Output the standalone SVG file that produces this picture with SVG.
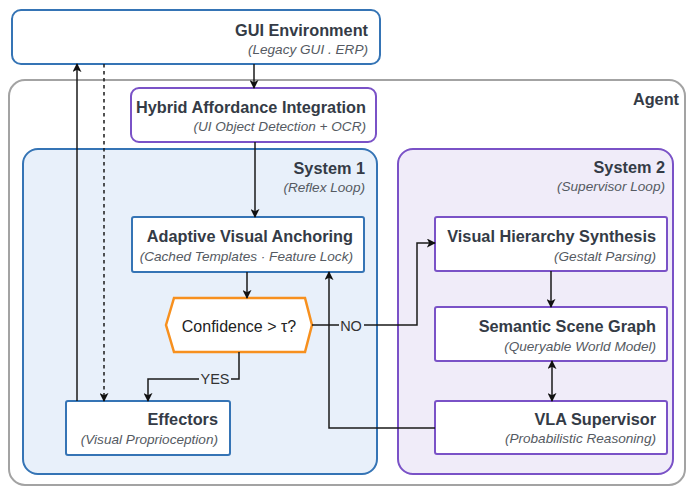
<svg xmlns="http://www.w3.org/2000/svg" width="687" height="487" viewBox="0 0 687 487">
  <style>
    text { font-family: "Liberation Sans", Arial, sans-serif; }
    .title { font-size: 16.3px; font-weight: bold; fill: #343b46; text-anchor: end; }
    .sub { font-size: 13.6px; font-style: italic; fill: #555a62; text-anchor: end; }
    .blue { fill: #ffffff; stroke: #3574b5; stroke-width: 2; }
    .purple { fill: #ffffff; stroke: #7a52c7; stroke-width: 2; }
    .edge { fill: none; stroke: #1a1a1a; stroke-width: 1.5; }
    .lbl { font-size: 14.5px; fill: #333; text-anchor: middle; }
  </style>
  <defs>
    <marker id="arr" viewBox="0 0 10 10" refX="9" refY="5" markerWidth="9" markerHeight="9" orient="auto-start-reverse" markerUnits="userSpaceOnUse">
      <path d="M0,0 L10,5 L0,10 L2.5,5 Z" fill="#111"/>
    </marker>
  </defs>
  <rect width="687" height="487" fill="#ffffff"/>

  <!-- containers -->
  <g id="agent">
    <rect x="9" y="80" width="676" height="405" rx="16" fill="#ffffff" stroke="#a3a3a3" stroke-width="2"/>
    <text class="title" x="679" y="105">Agent</text>
  </g>
  <g id="system1">
    <rect x="23" y="149" width="354" height="325" rx="15" fill="#e8f0fa" stroke="#3574b5" stroke-width="2"/>
    <text class="title" x="365" y="174">System 1</text>
    <text class="sub" x="365" y="192">(Reflex Loop)</text>
  </g>
  <g id="system2">
    <rect x="398" y="149" width="275" height="325" rx="15" fill="#f0ecf9" stroke="#7a52c7" stroke-width="2"/>
    <text class="title" x="665" y="173">System 2</text>
    <text class="sub" x="665" y="191">(Supervisor Loop)</text>
  </g>

  <!-- nodes -->
  <g id="gui">
    <rect class="blue" x="12" y="10" width="368" height="54" rx="9"/>
    <text class="title" x="368" y="36">GUI Environment</text>
    <text class="sub" x="368" y="54">(Legacy GUI . ERP)</text>
  </g>
  <g id="hybrid">
    <rect class="purple" x="131" y="88" width="245" height="54" rx="8"/>
    <text class="title" x="366" y="113">Hybrid Affordance Integration</text>
    <text class="sub" x="366" y="131">(UI Object Detection + OCR)</text>
  </g>
  <g id="anchoring">
    <rect class="blue" x="132" y="217" width="232" height="55" rx="2"/>
    <text class="title" x="353" y="242">Adaptive Visual Anchoring</text>
    <text class="sub" x="353" y="261">(Cached Templates · Feature Lock)</text>
  </g>
  <g id="confidence">
    <polygon points="166,325 174,298 305,298 312,325 305,352 174,352" fill="#ffffff" stroke="#f7901e" stroke-width="2.5"/>
    <text x="239" y="332" font-size="16" fill="#222" text-anchor="middle">Confidence &gt; τ?</text>
  </g>
  <g id="effectors">
    <rect class="blue" x="66" y="401" width="164" height="54" rx="2"/>
    <text class="title" x="218" y="425">Effectors</text>
    <text class="sub" x="218" y="444">(Visual Proprioception)</text>
  </g>
  <g id="hierarchy">
    <rect class="purple" x="435" y="217" width="232" height="54" rx="2"/>
    <text class="title" x="656" y="242">Visual Hierarchy Synthesis</text>
    <text class="sub" x="656" y="261">(Gestalt Parsing)</text>
  </g>
  <g id="scenegraph">
    <rect class="purple" x="435" y="307" width="232" height="54" rx="2"/>
    <text class="title" x="656" y="332">Semantic Scene Graph</text>
    <text class="sub" x="656" y="351">(Queryable World Model)</text>
  </g>
  <g id="supervisor">
    <rect class="purple" x="435" y="401" width="232" height="53" rx="2"/>
    <text class="title" x="656" y="425">VLA Supervisor</text>
    <text class="sub" x="656" y="443">(Probabilistic Reasoning)</text>
  </g>

  <!-- connectors -->
  <g id="connectors">
    <path class="edge" d="M254,64 L254,88" marker-end="url(#arr)"/>
    <path class="edge" d="M255,142 L255,217" marker-end="url(#arr)"/>
    <path class="edge" d="M247,272 L247,298" marker-end="url(#arr)"/>
    <path class="edge" d="M239,352 L239,379 L148,379 L148,401" marker-end="url(#arr)"/>
    <path class="edge" d="M312,325 L417,325 L417,243 L435,243" marker-end="url(#arr)"/>
    <path class="edge" stroke="#333" d="M435,428 L329,428 L329,272" marker-end="url(#arr)"/>
    <path class="edge" d="M551,271 L551,307" marker-end="url(#arr)"/>
    <path class="edge" d="M552,361 L552,401" marker-start="url(#arr)" marker-end="url(#arr)"/>
    <path class="edge" stroke="#555" d="M77,401 L77,64" marker-end="url(#arr)"/>
    <path class="edge" stroke="#777" stroke-width="2" stroke-dasharray="3.5,3.5" d="M104,64 L104,401" marker-end="url(#arr)"/>
    <!-- edge labels -->
    <rect x="199" y="371" width="32" height="16" fill="#e8f0fa"/>
    <text class="lbl" x="215" y="384">YES</text>
    <rect x="339" y="318" width="25" height="15" fill="#e8f0fa"/>
    <text class="lbl" x="351" y="331">NO</text>
  </g>
</svg>
